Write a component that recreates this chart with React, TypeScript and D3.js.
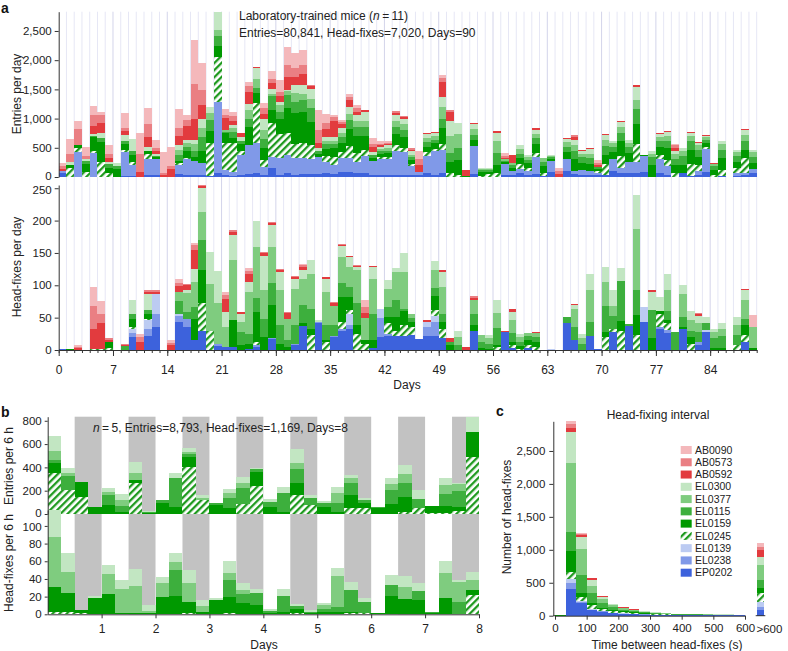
import React, { useRef, useEffect } from 'react'
import * as d3 from 'd3'

const FONT = '"Liberation Sans", Arial, Helvetica, sans-serif'

// stacking order, bottom to top
const mice = ['EP0202', 'EL0238', 'EL0139', 'EL0245', 'EL0159', 'EL0115', 'EL0377', 'EL0300', 'AB0592', 'AB0573', 'AB0090']
const mouseColors = ['#3d62dc', '#8099e8', '#bccbf2', '#1f9a1f', '#009900', '#3daf3d', '#7fcc7f', '#c2e6c2', '#e23b3e', '#ea7f83', '#f4b8bb']
const hatchedMouse = 'EL0245'

// panel a, entries per day (one row per day, values in mice order)
const entriesPerDay = [
  [60, 40, 0, 0, 0, 0, 0, 0, 40, 50, 50],
  [0, 0, 0, 150, 60, 0, 0, 40, 0, 150, 245],
  [0, 420, 0, 70, 50, 0, 0, 0, 0, 280, 140],
  [0, 0, 0, 80, 150, 40, 0, 30, 0, 60, 148],
  [0, 405, 0, 40, 240, 20, 0, 30, 130, 200, 150],
  [0, 0, 0, 262, 340, 60, 0, 90, 170, 140, 56],
  [0, 0, 0, 60, 100, 60, 0, 40, 60, 80, 148],
  [0, 0, 0, 0, 130, 60, 0, 55, 0, 0, 0],
  [20, 414, 0, 30, 100, 60, 0, 100, 60, 60, 246],
  [20, 180, 0, 50, 130, 70, 0, 200, 0, 0, 0],
  [0, 0, 0, 0, 0, 0, 0, 0, 90, 300, 358],
  [40, 260, 0, 90, 60, 0, 0, 60, 170, 220, 276],
  [40, 260, 0, 0, 40, 20, 0, 40, 40, 60, 140],
  [0, 0, 0, 0, 0, 0, 0, 0, 30, 30, 370],
  [0, 0, 0, 0, 0, 0, 0, 0, 130, 60, 330],
  [50, 160, 0, 30, 40, 90, 100, 80, 150, 140, 330],
  [40, 260, 0, 30, 110, 80, 60, 60, 228, 100, 100],
  [40, 228, 0, 0, 80, 100, 120, 60, 360, 600, 765],
  [40, 200, 0, 0, 200, 250, 150, 150, 250, 250, 456],
  [20, 0, 0, 560, 200, 200, 120, 104, 0, 0, 0],
  [60, 1220, 0, 780, 180, 170, 110, 300, 0, 0, 0],
  [30, 90, 0, 456, 170, 30, 30, 0, 200, 60, 92],
  [20, 70, 0, 486, 100, 100, 60, 60, 60, 80, 82],
  [30, 350, 0, 60, 120, 60, 0, 60, 68, 0, 0],
  [50, 500, 0, 0, 300, 150, 150, 100, 200, 100, 82],
  [60, 516, 0, 685, 170, 100, 150, 180, 20, 8, 0],
  [40, 137, 0, 120, 200, 150, 150, 200, 90, 100, 74],
  [150, 200, 0, 570, 230, 230, 40, 80, 110, 60, 150],
  [30, 300, 0, 400, 270, 120, 120, 40, 100, 80, 200],
  [60, 317, 0, 371, 428, 228, 60, 26, 228, 200, 313],
  [40, 280, 0, 250, 520, 200, 150, 130, 150, 150, 247],
  [50, 280, 0, 250, 540, 200, 100, 150, 200, 150, 254],
  [50, 250, 0, 250, 400, 230, 150, 180, 50, 20, 0],
  [50, 300, 0, 0, 50, 50, 0, 40, 100, 220, 340],
  [60, 200, 0, 100, 120, 80, 60, 60, 150, 100, 149],
  [50, 150, 0, 150, 150, 60, 60, 60, 285, 60, 42],
  [80, 250, 0, 100, 150, 100, 80, 80, 60, 40, 42],
  [80, 250, 0, 200, 300, 150, 100, 120, 120, 50, 51],
  [60, 200, 0, 150, 300, 150, 100, 100, 60, 60, 58],
  [60, 300, 0, 100, 250, 150, 100, 150, 30, 13, 0],
  [30, 250, 0, 0, 50, 40, 0, 60, 80, 60, 98],
  [30, 270, 0, 40, 60, 40, 40, 40, 30, 20, 40],
  [30, 270, 0, 50, 60, 40, 40, 50, 20, 20, 30],
  [40, 400, 0, 100, 200, 120, 100, 100, 40, 24, 0],
  [40, 380, 0, 80, 180, 120, 100, 100, 20, 19, 0],
  [40, 150, 0, 40, 60, 50, 40, 60, 30, 26, 0],
  [30, 60, 0, 0, 0, 0, 0, 0, 120, 100, 130],
  [60, 300, 0, 60, 100, 80, 60, 80, 13, 0, 0],
  [40, 400, 0, 40, 100, 60, 60, 50, 15, 0, 0],
  [60, 400, 0, 100, 280, 150, 200, 180, 250, 80, 52],
  [0, 0, 0, 60, 200, 150, 300, 250, 150, 43, 0],
  [0, 0, 0, 40, 250, 200, 250, 184, 0, 0, 0],
  [0, 0, 0, 0, 20, 0, 0, 0, 100, 5, 0],
  [50, 475, 0, 0, 100, 100, 100, 80, 19, 0, 0],
  [0, 0, 0, 20, 60, 40, 20, 14, 0, 0, 0],
  [0, 0, 0, 50, 40, 30, 20, 14, 0, 0, 0],
  [0, 0, 0, 60, 150, 200, 200, 150, 22, 0, 0],
  [40, 180, 0, 0, 30, 30, 20, 0, 20, 40, 51],
  [40, 60, 0, 0, 60, 40, 40, 0, 140, 0, 2],
  [60, 80, 0, 80, 100, 80, 80, 70, 3, 0, 0],
  [40, 60, 0, 60, 80, 50, 50, 40, 2, 0, 0],
  [50, 300, 0, 60, 150, 100, 80, 60, 39, 0, 0],
  [20, 0, 0, 40, 120, 80, 60, 5, 0, 0, 0],
  [80, 200, 0, 0, 30, 30, 20, 20, 2, 0, 0],
  [0, 0, 0, 0, 0, 0, 0, 0, 50, 50, 54],
  [100, 200, 0, 0, 120, 100, 80, 50, 18, 0, 0],
  [50, 50, 0, 0, 200, 150, 100, 80, 63, 20, 0],
  [40, 80, 0, 0, 120, 100, 60, 50, 18, 0, 0],
  [40, 60, 0, 0, 120, 100, 80, 80, 16, 0, 0],
  [30, 40, 0, 30, 40, 30, 0, 0, 40, 30, 57],
  [30, 0, 0, 200, 150, 150, 100, 90, 16, 0, 0],
  [100, 200, 0, 0, 120, 100, 60, 30, 0, 0, 0],
  [60, 100, 0, 200, 250, 150, 100, 80, 13, 0, 0],
  [60, 200, 0, 0, 150, 100, 80, 49, 0, 0, 0],
  [60, 200, 0, 300, 350, 250, 150, 230, 29, 0, 0],
  [80, 280, 0, 0, 10, 12, 0, 0, 0, 0, 0],
  [0, 0, 0, 0, 200, 150, 50, 50, 0, 0, 0],
  [60, 250, 0, 60, 150, 100, 60, 60, 13, 0, 0],
  [40, 150, 0, 100, 200, 120, 100, 60, 23, 0, 0],
  [0, 0, 0, 60, 150, 100, 80, 50, 60, 40, 25],
  [60, 0, 0, 0, 150, 150, 80, 56, 0, 0, 0],
  [20, 0, 0, 200, 250, 150, 80, 57, 13, 0, 0],
  [40, 60, 0, 100, 150, 120, 80, 40, 9, 0, 0],
  [80, 400, 0, 40, 60, 60, 50, 10, 13, 0, 0],
  [0, 0, 0, 40, 80, 60, 40, 10, 10, 0, 0],
  [20, 0, 0, 100, 200, 140, 100, 50, 0, 0, 0],
  [0, 0, 0, 0, 0, 0, 0, 0, 0, 0, 8],
  [20, 40, 0, 100, 100, 100, 60, 48, 0, 0, 0],
  [30, 40, 0, 250, 150, 150, 100, 90, 17, 0, 0],
  [60, 80, 0, 0, 100, 100, 80, 40, 8, 0, 0]
]

// panel a, head-fixes per day
const headFixesPerDay = [
  [2, 0, 0, 0, 0, 0, 0, 0, 0, 0, 0],
  [0, 0, 0, 0, 1, 0, 0, 0, 0, 0, 0],
  [0, 0, 0, 0, 0, 0, 0, 0, 3, 2, 2],
  [0, 0, 0, 0, 0, 0, 0, 0, 0, 0, 0],
  [0, 0, 0, 2, 0, 0, 0, 0, 31, 35, 29],
  [0, 0, 0, 2, 0, 0, 0, 0, 39, 14, 20],
  [0, 0, 0, 3, 9, 0, 0, 0, 4, 2, 0],
  [0, 0, 0, 0, 0, 0, 0, 0, 0, 0, 0],
  [0, 0, 0, 0, 0, 6, 0, 0, 2, 1, 0],
  [20, 7, 6, 2, 13, 7, 0, 23, 0, 0, 0],
  [0, 0, 0, 0, 0, 0, 0, 0, 12, 8, 5],
  [22, 11, 13, 2, 8, 6, 0, 24, 4, 2, 0],
  [35, 21, 31, 0, 0, 0, 0, 0, 3, 2, 0],
  [0, 0, 0, 0, 0, 0, 0, 0, 0, 0, 0],
  [0, 0, 0, 0, 0, 0, 0, 0, 8, 3, 4],
  [43, 9, 3, 0, 0, 20, 14, 0, 10, 5, 5],
  [35, 13, 0, 0, 0, 10, 30, 4, 8, 2, 0],
  [15, 0, 0, 0, 33, 18, 39, 20, 29, 8, 4],
  [30, 0, 0, 42, 51, 47, 43, 37, 3, 2, 0],
  [0, 0, 0, 30, 0, 0, 72, 50, 0, 0, 0],
  [6, 3, 0, 0, 0, 0, 63, 50, 0, 0, 0],
  [5, 0, 0, 0, 0, 0, 30, 24, 20, 6, 5],
  [4, 0, 0, 0, 42, 0, 93, 38, 5, 3, 0],
  [0, 0, 0, 0, 8, 20, 15, 13, 2, 0, 0],
  [2, 0, 0, 0, 8, 15, 65, 15, 12, 5, 5],
  [5, 3, 0, 4, 47, 21, 79, 41, 0, 0, 0],
  [0, 0, 0, 0, 20, 28, 44, 54, 4, 2, 0],
  [17, 2, 0, 0, 50, 34, 56, 34, 3, 2, 0],
  [0, 0, 0, 0, 10, 28, 54, 29, 3, 1, 0],
  [0, 0, 0, 0, 5, 10, 33, 0, 9, 2, 0],
  [7, 2, 0, 0, 0, 30, 56, 15, 3, 1, 0],
  [37, 0, 0, 0, 5, 28, 40, 13, 5, 3, 2],
  [0, 0, 0, 23, 10, 30, 55, 21, 0, 0, 0],
  [41, 3, 0, 0, 0, 0, 0, 2, 0, 0, 0],
  [0, 0, 0, 12, 4, 22, 52, 20, 3, 0, 0],
  [20, 2, 0, 0, 0, 16, 30, 0, 5, 1, 0],
  [30, 3, 0, 10, 39, 21, 41, 17, 2, 1, 0],
  [33, 6, 17, 6, 20, 16, 31, 14, 2, 0, 0],
  [0, 0, 0, 25, 13, 35, 50, 5, 2, 2, 0],
  [0, 0, 0, 10, 5, 0, 35, 0, 7, 10, 11],
  [3, 0, 0, 0, 12, 40, 55, 18, 2, 0, 0],
  [20, 30, 14, 0, 0, 0, 0, 0, 0, 0, 0],
  [22, 2, 0, 17, 10, 15, 28, 14, 0, 0, 0],
  [22, 0, 0, 8, 21, 26, 44, 6, 0, 0, 0],
  [22, 0, 0, 16, 23, 3, 56, 30, 0, 0, 0],
  [23, 0, 0, 12, 8, 6, 6, 0, 0, 0, 0],
  [17, 0, 0, 0, 0, 0, 0, 0, 0, 0, 0],
  [22, 14, 8, 0, 0, 0, 0, 0, 3, 0, 0],
  [21, 23, 9, 9, 21, 13, 28, 13, 0, 0, 0],
  [18, 0, 0, 15, 10, 13, 41, 23, 4, 0, 0],
  [0, 0, 0, 0, 8, 5, 0, 0, 5, 0, 0],
  [0, 0, 0, 0, 0, 8, 12, 9, 0, 0, 0],
  [0, 0, 0, 0, 0, 0, 0, 0, 5, 0, 0],
  [30, 0, 0, 0, 8, 18, 21, 0, 4, 2, 0],
  [0, 0, 0, 0, 3, 10, 10, 0, 0, 0, 0],
  [0, 0, 0, 0, 2, 8, 8, 5, 0, 0, 0],
  [0, 0, 0, 5, 3, 26, 23, 21, 0, 0, 0],
  [28, 0, 0, 0, 0, 0, 0, 0, 2, 0, 0],
  [3, 0, 0, 5, 5, 13, 20, 13, 5, 0, 0],
  [0, 0, 0, 2, 4, 6, 8, 4, 0, 0, 0],
  [3, 0, 0, 5, 8, 6, 5, 0, 0, 0, 0],
  [0, 0, 0, 5, 8, 7, 6, 0, 2, 0, 0],
  [0, 0, 0, 0, 0, 0, 0, 0, 0, 0, 0],
  [0, 0, 2, 0, 0, 0, 0, 0, 0, 0, 0],
  [0, 0, 0, 0, 0, 0, 0, 0, 0, 0, 0],
  [42, 0, 0, 0, 0, 9, 0, 0, 0, 0, 0],
  [15, 0, 0, 0, 0, 21, 28, 5, 2, 0, 0],
  [0, 0, 0, 0, 0, 10, 8, 7, 0, 0, 0],
  [22, 0, 0, 0, 0, 22, 49, 24, 0, 0, 0],
  [2, 0, 0, 0, 0, 0, 0, 0, 0, 0, 0],
  [0, 0, 0, 20, 8, 40, 37, 24, 0, 0, 0],
  [28, 0, 0, 5, 0, 20, 15, 25, 0, 0, 0],
  [0, 0, 0, 30, 15, 61, 0, 20, 0, 0, 0],
  [37, 0, 0, 0, 0, 3, 0, 0, 0, 0, 0],
  [0, 0, 0, 23, 31, 38, 95, 53, 0, 0, 0],
  [43, 0, 23, 0, 0, 0, 0, 0, 0, 0, 0],
  [0, 0, 0, 0, 18, 44, 0, 28, 2, 0, 0],
  [33, 3, 0, 20, 5, 0, 0, 21, 0, 0, 0],
  [27, 4, 0, 10, 5, 15, 31, 25, 0, 0, 0],
  [0, 0, 0, 0, 0, 28, 0, 0, 0, 0, 0],
  [33, 0, 0, 0, 3, 15, 36, 14, 0, 0, 0],
  [0, 0, 0, 10, 10, 10, 16, 14, 0, 0, 0],
  [8, 5, 0, 0, 0, 15, 13, 12, 2, 2, 0],
  [28, 0, 3, 0, 0, 10, 0, 10, 0, 0, 0],
  [0, 0, 0, 0, 3, 15, 10, 5, 0, 0, 0],
  [0, 0, 0, 0, 3, 18, 12, 8, 0, 0, 0],
  [0, 0, 0, 0, 0, 0, 0, 0, 0, 0, 0],
  [0, 0, 0, 8, 0, 15, 16, 12, 0, 0, 0],
  [13, 0, 0, 10, 15, 10, 30, 15, 2, 0, 0],
  [0, 0, 0, 0, 3, 0, 33, 0, 0, 0, 18]
]

// panel b, 6 h bins
const panelBMice = ['EL0245', 'EL0159', 'EL0115', 'EL0377', 'EL0300']
const entriesPer6h = [
  [354, 86, 23, 77, 132], [206, 0, 120, 28, 38], [149, 128, 0, 0, 0], [0, 63, 0, 0, 0],
  [0, 77, 86, 30, 27], [0, 20, 49, 51, 51], [263, 29, 0, 57, 100], [0, 10, 10, 0, 9],
  [0, 91, 29, 0, 0], [0, 63, 243, 0, 43], [406, 80, 28, 20, 29], [120, 0, 0, 20, 23],
  [0, 77, 14, 0, 0], [0, 49, 85, 43, 40], [86, 0, 134, 43, 57], [240, 123, 20, 0, 14],
  [0, 63, 43, 0, 20], [0, 20, 157, 0, 52], [163, 106, 114, 57, 114], [77, 0, 57, 0, 29],
  [0, 63, 28, 0, 23], [0, 20, 71, 86, 57], [49, 114, 106, 37, 28], [49, 42, 29, 0, 14],
  [0, 55, 8, 0, 0], [0, 86, 120, 51, 49], [20, 129, 114, 80, 77], [49, 0, 77, 0, 80],
  [10, 59, 0, 0, 0], [10, 59, 102, 77, 57], [30, 34, 137, 57, 11], [491, 215, 0, 0, 123]
]
const headFixesPer6h = [
  [3, 28, 0, 56, 31], [3, 21, 0, 24, 21], [2, 3, 0, 0, 0], [0, 19, 0, 0, 2],
  [0, 23, 0, 23, 10], [0, 2, 0, 27, 10], [0, 2, 0, 30, 19], [0, 2, 0, 2, 7],
  [0, 20, 0, 15, 7], [0, 21, 29, 9, 10], [2, 12, 0, 21, 15], [0, 3, 0, 6, 7],
  [0, 16, 0, 0, 2], [2, 18, 19, 8, 13], [0, 13, 10, 5, 7], [0, 11, 13, 0, 5],
  [0, 2, 2, 0, 2], [0, 3, 18, 0, 8], [2, 4, 3, 0, 3], [0, 1, 2, 0, 2],
  [0, 3, 3, 4, 3], [0, 3, 5, 35, 9], [2, 1, 25, 0, 9], [2, 0, 12, 0, 4],
  [0, 1, 0, 0, 0], [0, 21, 12, 0, 11], [0, 17, 0, 14, 12], [0, 16, 10, 0, 9],
  [0, 1, 2, 0, 0], [0, 18, 0, 29, 13], [0, 0, 14, 23, 2], [22, 6, 0, 11, 9]
]

// panel c, head-fixing interval histogram (bins of 33.3 s up to 600 s, then >600)
const intervalBinWidth = 100 / 3
const intervalCounts = [
  [3, 0, 0, 0, 2, 2, 3, 0, 0, 0, 0],
  [400, 90, 65, 103, 329, 288, 1038, 470, 71, 51, 45],
  [187, 15, 16, 60, 61, 278, 390, 193, 25, 15, 20],
  [86, 5, 5, 66, 35, 152, 101, 91, 26, 5, 5],
  [61, 3, 3, 32, 25, 76, 56, 25, 15, 3, 5],
  [40, 3, 3, 20, 20, 40, 30, 15, 3, 2, 1],
  [30, 2, 2, 15, 15, 30, 20, 10, 3, 2, 1],
  [25, 2, 2, 10, 12, 20, 15, 8, 3, 2, 1],
  [18, 1, 1, 8, 8, 14, 10, 6, 2, 1, 1],
  [14, 1, 1, 6, 6, 11, 8, 5, 1, 1, 1],
  [12, 1, 1, 5, 5, 9, 6, 4, 1, 0, 1],
  [9, 1, 1, 3, 3, 6, 4, 3, 0, 0, 0],
  [9, 0, 1, 3, 3, 6, 4, 3, 1, 0, 0],
  [8, 0, 0, 3, 3, 5, 3, 2, 1, 0, 0],
  [7, 0, 0, 3, 3, 5, 4, 2, 1, 0, 0],
  [6, 0, 0, 2, 2, 4, 3, 2, 1, 0, 0],
  [6, 0, 0, 2, 2, 4, 3, 2, 1, 0, 0],
  [4, 0, 0, 2, 2, 3, 2, 1, 1, 0, 0]
]
const intervalOver600 = [86, 51, 75, 127, 76, 126, 228, 127, 101, 51, 50]

const entriesTicks = [0, 500, 1000, 1500, 2000, 2500]
const headFixTicks = [0, 50, 100, 150, 200, 250]
const dayTicks = [0, 7, 14, 21, 28, 35, 42, 49, 56, 63, 70, 77, 84]
const entries6hTicks = [0, 200, 400, 600, 800]
const headFix6hTicks = [0, 20, 40, 60, 80, 100]
const panelBDayTicks = [1, 2, 3, 4, 5, 6, 7, 8]
const intervalTicks = [0, 100, 200, 300, 400, 500, 600]
const countTicks = [0, 500, 1000, 1500, 2000, 2500]

type Sel = d3.Selection<SVGGElement, unknown, null, undefined>

const App: React.FC = () => {
  const svgRef = useRef<SVGSVGElement>(null)

  useEffect(() => {
    if (!svgRef.current) return
    const svg = d3.select(svgRef.current)
    svg.selectAll('*').remove()

    const color = d3.scaleOrdinal<string>().domain(mice).range(mouseColors)
    const fillFor = (key: string) => (key === hatchedMouse ? 'url(#hatch)' : color(key))

    const defs = svg.append('defs')
    const pat = defs.append('pattern')
      .attr('id', 'hatch')
      .attr('patternUnits', 'userSpaceOnUse')
      .attr('width', 5).attr('height', 5)
      .attr('patternTransform', 'rotate(45)')
    pat.append('rect').attr('width', 5).attr('height', 5).attr('fill', '#fff')
    pat.append('rect').attr('width', 2.3).attr('height', 5).attr('fill', '#1f9a1f')

    defs.append('clipPath').attr('id', 'clipA')
      .append('rect').attr('x', 0).attr('y', 11.7).attr('width', 788).attr('height', 166)

    const styleAxis = (g: Sel, size = 12) => {
      g.attr('font-family', FONT).attr('font-size', size)
      g.select('.domain').attr('stroke', '#333')
      g.selectAll('.tick line').attr('stroke', '#333')
      g.selectAll('text').attr('fill', '#222')
    }

    // stacked bars, one bar per row
    const drawStack = (g: Sel, rows: number[][], keys: string[],
      x0: (i: number) => number, x1: (i: number) => number, y: d3.ScaleLinear<number, number>) => {
      const table = rows.map((r, i) => {
        const o: any = { i }
        keys.forEach((k, j) => { o[k] = r[j] })
        return o
      })
      const series = d3.stack<any>().keys(keys)(table)
      g.selectAll('g.layer')
        .data(series)
        .enter().append('g')
        .attr('class', 'layer')
        .attr('fill', s => fillFor(s.key))
        .selectAll('rect')
        .data(s => s.filter(d => d[1] > d[0]))
        .enter().append('rect')
        .attr('x', d => x0(d.data.i))
        .attr('width', d => x1(d.data.i) - x0(d.data.i))
        .attr('y', d => y(d[1]))
        .attr('height', d => y(d[0]) - y(d[1]))
        .attr('shape-rendering', 'crispEdges')
    }

    // nudge the zero label of an upper panel and the top label of a lower one apart
    const nudgeTick = (g: Sel, value: number, dy: number) => {
      g.selectAll<SVGGElement, number>('.tick')
        .filter(d => d === value)
        .select('text')
        .attr('y', dy)
    }

    const yLabel = (x: number, y: number, text: string, size = 12) => {
      svg.append('text')
        .attr('transform', `translate(${x},${y}) rotate(-90)`)
        .attr('text-anchor', 'middle')
        .attr('dy', '0.35em')
        .attr('font-family', FONT).attr('font-size', size).attr('fill', '#222')
        .text(text)
    }
    const panelLetter = (x: number, y: number, t: string) => {
      svg.append('text').attr('x', x).attr('y', y)
        .attr('font-family', FONT).attr('font-size', 14).attr('font-weight', 'bold')
        .attr('fill', '#111').text(t)
    }

    // ---------- panel a ----------
    const xA = d3.scaleLinear().domain([0, 90]).range([58.7, 756.7])
    const yEnt = d3.scaleLinear().domain([0, 2830]).range([177, 11.7])
    const yHf = d3.scaleLinear().domain([0, 255]).range([350, 185])

    const grid = svg.append('g')
    grid.selectAll('line')
      .data(d3.range(1, 91))
      .enter().append('line')
      .attr('x1', d => xA(d)).attr('x2', d => xA(d))
      .attr('y1', 11.7).attr('y2', 350)
      .attr('stroke', d => (d % 7 === 0 ? '#d3d4ea' : '#e6e7f5'))
      .attr('stroke-width', 1)

    const aTop = svg.append('g').attr('clip-path', 'url(#clipA)')
    drawStack(aTop, entriesPerDay, mice, i => xA(i), i => xA(i + 1), yEnt)
    const aBottom = svg.append('g')
    drawStack(aBottom, headFixesPerDay, mice, i => xA(i), i => xA(i + 1), yHf)

    const ayTop = svg.append('g').attr('transform', `translate(${xA(0)},0)`)
      .call(d3.axisLeft(yEnt).tickValues(entriesTicks).tickFormat(d3.format(',')).tickSize(4).tickSizeOuter(0))
    styleAxis(ayTop, 11.5)
    nudgeTick(ayTop, 0, -1.5)
    const ayBottom = svg.append('g').attr('transform', `translate(${xA(0)},0)`)
      .call(d3.axisLeft(yHf).tickValues(headFixTicks).tickSize(4).tickSizeOuter(0))
    styleAxis(ayBottom, 11.5)
    nudgeTick(ayBottom, 250, 1.5)

    const axMinor = svg.append('g').attr('transform', 'translate(0,350)')
      .call(d3.axisBottom(xA).tickValues(d3.range(0, 91)).tickSize(3).tickSizeOuter(0).tickFormat(() => ''))
    styleAxis(axMinor)
    const axMajor = svg.append('g').attr('transform', 'translate(0,350)')
      .call(d3.axisBottom(xA).tickValues(dayTicks).tickSize(6).tickSizeOuter(0))
    styleAxis(axMajor)
    axMajor.selectAll('text').attr('y', 15)

    svg.append('text').attr('x', 407).attr('y', 389).attr('text-anchor', 'middle')
      .attr('font-family', FONT).attr('font-size', 12).attr('fill', '#222').text('Days')
    yLabel(17, 94, 'Entries per day')
    yLabel(17, 267, 'Head-fixes per day')
    panelLetter(1, 13, 'a')

    const noteA = svg.append('text').attr('x', 239).attr('y', 19.5)
      .attr('font-family', FONT).attr('font-size', 12).attr('fill', '#222')
    noteA.append('tspan').text('Laboratory-trained mice (')
    noteA.append('tspan').attr('font-style', 'italic').text('n')
    noteA.append('tspan').text('\u2009=\u200911)')
    svg.append('text').attr('x', 239).attr('y', 36.5)
      .attr('font-family', FONT).attr('font-size', 12).attr('fill', '#222')
      .text('Entries=80,841, Head-fixes=7,020, Days=90')

    // ---------- panel b ----------
    const xB = d3.scaleLinear().domain([0, 8]).range([47.7, 479])
    const yEntB = d3.scaleLinear().domain([0, 835]).range([514, 416.7])
    const yHfB = d3.scaleLinear().domain([0, 118]).range([614.3, 510])

    svg.append('g').selectAll('rect')
      .data(d3.range(0, 8))
      .enter().append('rect')
      .attr('x', d => xB(d + 0.5))
      .attr('width', d => xB(d + 1) - xB(d + 0.5))
      .attr('y', 416.7).attr('height', 614.3 - 416.7)
      .attr('fill', '#c2c2c2')

    drawStack(svg.append('g'), entriesPer6h, panelBMice, i => xB(i / 4), i => xB((i + 1) / 4), yEntB)
    drawStack(svg.append('g'), headFixesPer6h, panelBMice, i => xB(i / 4), i => xB((i + 1) / 4), yHfB)

    const byTop = svg.append('g').attr('transform', `translate(${xB(0)},0)`)
      .call(d3.axisLeft(yEntB).tickValues(entries6hTicks).tickSize(3).tickPadding(3).tickSizeOuter(0))
    styleAxis(byTop, 11.5)
    nudgeTick(byTop, 0, -1.2)
    const byBottom = svg.append('g').attr('transform', `translate(${xB(0)},0)`)
      .call(d3.axisLeft(yHfB).tickValues(headFix6hTicks).tickSize(3).tickPadding(3).tickSizeOuter(0))
    styleAxis(byBottom, 11.5)
    nudgeTick(byBottom, 100, 1.2)
    const bx = svg.append('g').attr('transform', 'translate(0,614.3)')
      .call(d3.axisBottom(xB).tickValues(panelBDayTicks).tickSize(4).tickSizeOuter(0))
    styleAxis(bx)
    bx.selectAll('text').attr('y', 10)

    svg.append('text').attr('x', 264).attr('y', 649).attr('text-anchor', 'middle')
      .attr('font-family', FONT).attr('font-size', 12).attr('fill', '#222').text('Days')
    yLabel(9, 466, 'Entries per 6 h')
    yLabel(9, 563, 'Head-fixes per 6 h')
    panelLetter(1, 417, 'b')

    const noteB = svg.append('text').attr('x', 93).attr('y', 432)
      .attr('font-family', FONT).attr('font-size', 12).attr('fill', '#222')
    noteB.append('tspan').attr('font-style', 'italic').text('n')
    noteB.append('tspan').text('\u2009=\u20095, Entries=8,793, Head-fixes=1,169, Days=8')

    // ---------- panel c ----------
    const xC = d3.scaleLinear().domain([0, 600]).range([555, 745])
    const yC = d3.scaleLinear().domain([0, 2950]).range([615.7, 421.3])
    const over600X0 = 756.7
    const over600X1 = 764.3

    drawStack(svg.append('g'), intervalCounts, mice,
      i => xC(i * intervalBinWidth), i => xC((i + 1) * intervalBinWidth), yC)
    drawStack(svg.append('g'), [intervalOver600], mice, () => over600X0, () => over600X1, yC)

    const cy = svg.append('g').attr('transform', 'translate(553.3,0)')
      .call(d3.axisLeft(yC).tickValues(countTicks).tickFormat(d3.format(',')).tickSize(4).tickPadding(4).tickSizeOuter(0))
    styleAxis(cy, 11.5)
    const cx = svg.append('g').attr('transform', 'translate(0,615.7)')
      .call(d3.axisBottom(xC).tickValues(intervalTicks).tickSize(4).tickSizeOuter(0))
    styleAxis(cx, 11.5)
    cx.selectAll('text').attr('y', 8)
    svg.append('line').attr('x1', 553.3).attr('x2', 555).attr('y1', 615.7).attr('y2', 615.7).attr('stroke', '#333')
    svg.append('line').attr('x1', over600X0 - 1).attr('x2', over600X1 + 1)
      .attr('y1', 615.7).attr('y2', 615.7).attr('stroke', '#333')
    svg.append('text').attr('x', 756.5).attr('y', 632.5)
      .attr('font-family', FONT).attr('font-size', 11.5).attr('fill', '#222').text('>600')

    svg.append('text').attr('x', 658).attr('y', 419).attr('text-anchor', 'middle')
      .attr('font-family', FONT).attr('font-size', 12).attr('fill', '#222').text('Head-fixing interval')
    svg.append('text').attr('x', 667).attr('y', 649).attr('text-anchor', 'middle')
      .attr('font-family', FONT).attr('font-size', 12).attr('fill', '#222').text('Time between head-fixes (s)')
    yLabel(507, 517, 'Number of head-fixes')
    panelLetter(496, 416, 'c')

    const legend = svg.append('g')
    mice.slice().reverse().forEach((m, i) => {
      const y = 450 + i * 12.27
      legend.append('rect').attr('x', 680.7).attr('y', y - 4).attr('width', 11).attr('height', 8)
        .attr('fill', fillFor(m))
      legend.append('text').attr('x', 695).attr('y', y).attr('dy', '0.35em')
        .attr('font-family', FONT).attr('font-size', 10.5).attr('fill', '#222').text(m)
    })
  }, [])

  return (
    <svg
      ref={svgRef}
      width={788}
      height={651}
      style={{ position: 'absolute', left: 0, top: 0, background: '#fff' }}
    />
  )
}

export default App
